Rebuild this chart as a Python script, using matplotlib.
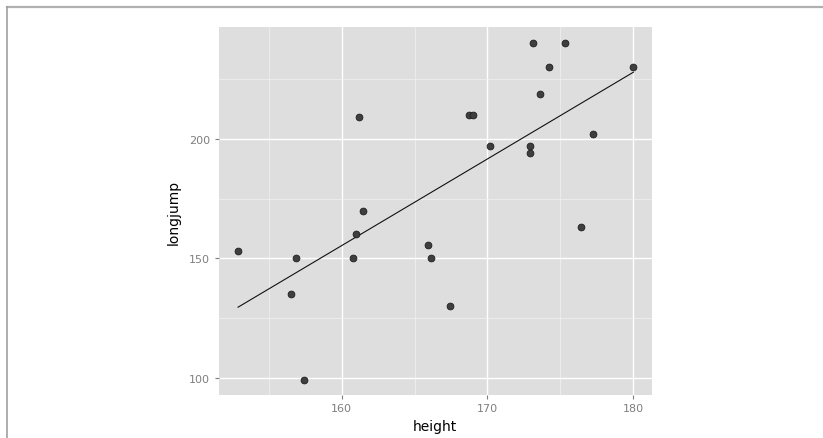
import matplotlib.pyplot as plt
from matplotlib.lines import Line2D
import numpy as np

height = [152.9, 156.9, 156.5, 157.4, 160.8, 161.0, 165.9, 166.1, 167.4,
          161.2, 161.5, 168.7, 169.0, 170.2, 172.9, 172.9, 173.1, 175.3,
          174.2, 173.6, 177.2, 180.0, 176.4]
longjump = [153, 150, 135, 99, 150, 160, 155.5, 150, 130,
            209, 170, 210, 210, 197, 197, 194, 240, 240,
            230, 219, 202, 230, 163]

x_ticks = [160, 170, 180]
y_ticks = [100, 150, 200]

fig = plt.figure(figsize=(8.23, 4.39), dpi=100)
ax = fig.add_axes([0.2655, 0.098, 0.5264, 0.8383])
ax.set_facecolor("#dedede")
for s in ax.spines.values():
    s.set_visible(False)

ax.set_xlim(151.56, 181.26)
ax.set_ylim(92.75, 246.9)
ax.set_xticks(x_ticks)
ax.set_yticks(y_ticks)
ax.set_xticks([155, 165, 175], minor=True)
ax.set_yticks([125, 175, 225], minor=True)
ax.grid(which="major", color="white", linewidth=1.0)
ax.grid(which="minor", color="#f2f2f2", linewidth=0.5)
ax.set_axisbelow(True)
ax.tick_params(which="major", colors="#7f7f7f", labelsize=8, length=3, width=0.8, pad=3)
ax.tick_params(which="minor", length=0)

# linear fit
x = np.array(height)
y = np.array(longjump)
k, b = np.polyfit(x, y, 1)
xs = np.linspace(x.min(), x.max(), 50)
ax.plot(xs, k * xs + b, color="#111111", linewidth=0.8)

ax.scatter(x, y, s=24, color="#3f3f3f", edgecolors="#1e1e1e", linewidths=0.6, zorder=3)

ax.set_xlabel("height", fontsize=10, labelpad=4)
ax.set_ylabel("longjump", fontsize=10, labelpad=6)

# thin frame on the top and left edges
fig.add_artist(Line2D([7 / 823, 1], [1 - 8 / 439, 1 - 8 / 439], transform=fig.transFigure,
                      color="#b0b0b0", linewidth=1.6))
fig.add_artist(Line2D([7.5 / 823, 7.5 / 823], [0, 1 - 8 / 439], transform=fig.transFigure,
                      color="#a0a0a0", linewidth=1.2))

fig.savefig("out.png", dpi=100)
